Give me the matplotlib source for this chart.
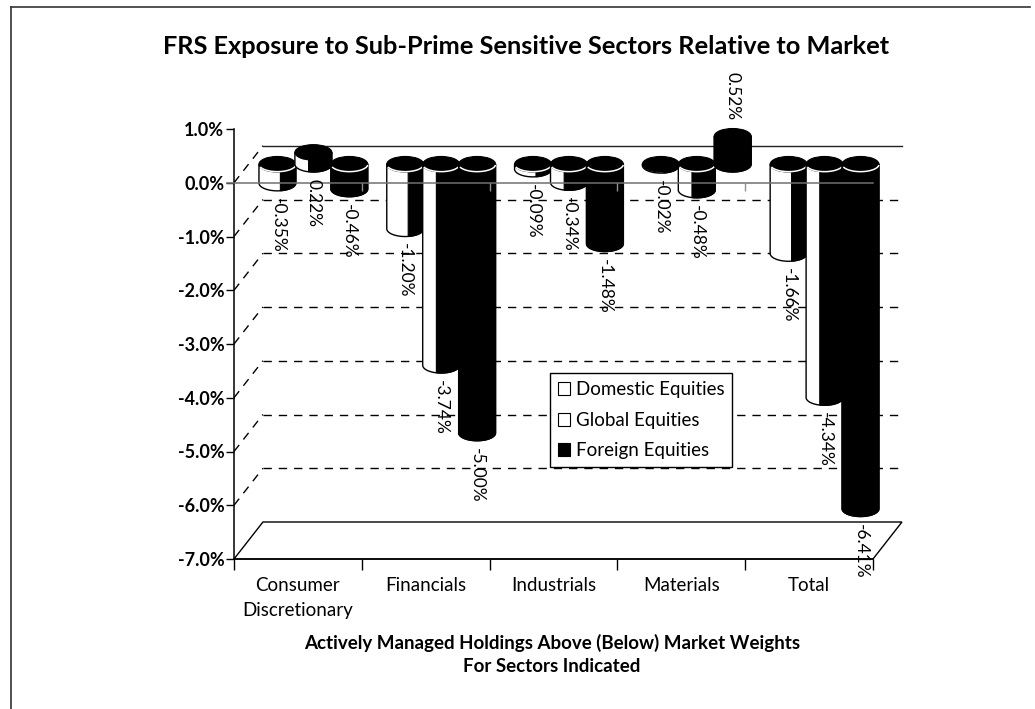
"""
FRS exposure to sub-prime sensitive sectors, old Excel style 3D cylinder chart.
"""

import matplotlib
matplotlib.use('Agg')
import matplotlib.pyplot as plt
import numpy as np
from matplotlib.lines import Line2D
from matplotlib.patches import Ellipse, Patch, Polygon

plt.rcParams['font.family'] = 'Lato'
plt.rcParams['font.size'] = 13

CATEGORIES = ['Consumer\nDiscretionary', 'Financials', 'Industrials', 'Materials', 'Total']
SERIES_NAMES = ['Domestic Equities', 'Global Equities', 'Foreign Equities']
DOMESTIC = [-0.35, -1.20, -0.09, -0.02, -1.66]
GLOBAL_EQ = [0.22, -3.74, -0.34, -0.48, -4.34]
FOREIGN = [-0.46, -5.00, -1.48, 0.52, -6.41]
Y_TICKS = [1, 0, -1, -2, -3, -4, -5, -6, -7]

W, H = 1035, 709
AX_L, AX_R, AX_T, AX_B = 234, 873, 129, 559

DEPTH_X = 29 / 128      # floor depth in category units
DEPTH_Y = 37 / 53.75    # floor depth in percent units
BAR_W = 37 / 128
BAR_STEP = 36 / 128
ELL_H = 0.29
# white share of the cylinder side, left to right
WHITE_PART = [0.58, 0.37, 0.0]


def draw_cylinder(ax, xc, val, white_part, z):
    base = DEPTH_Y / 2
    top = base + max(val, 0)
    bot = base + min(val, 0)
    xl, xr = xc - BAR_W / 2, xc + BAR_W / 2
    t = np.linspace(np.pi, 2 * np.pi, 40)
    ax_x = xc + BAR_W / 2 * np.cos(t)
    ax_y = bot + ELL_H / 2 * np.sin(t)

    pts = [(xl, top)] + list(zip(ax_x, ax_y)) + [(xr, top)]
    ax.add_patch(Polygon(pts, closed=True, facecolor='white', edgecolor='black',
                         linewidth=1.0, zorder=z, clip_on=False))
    # dark right side of the cylinder
    split = xl + BAR_W * white_part
    keep = ax_x >= split
    if white_part > 0:
        y_split = np.interp(split, ax_x, ax_y)
        dark = [(split, top), (split, y_split)] + list(zip(ax_x[keep], ax_y[keep])) + [(xr, top)]
    else:
        dark = pts
    ax.add_patch(Polygon(dark, closed=True, facecolor='black', edgecolor='black',
                         linewidth=0.8, zorder=z, clip_on=False))
    ax.add_patch(Ellipse((xc, top), BAR_W, ELL_H, facecolor='black', edgecolor='black',
                         linewidth=0.8, zorder=z, clip_on=False))
    # white rim under the top face
    if val < -0.05:
        t2 = np.linspace(1.12 * np.pi, 1.97 * np.pi, 30)
        ax.plot(xc + BAR_W / 2 * np.cos(t2), top + ELL_H / 2 * np.sin(t2) * 0.95,
                color='white', linewidth=1.1, zorder=z, clip_on=False,
                solid_capstyle='butt')


fig = plt.figure(figsize=(W / 100, H / 100), dpi=100)
ax = fig.add_axes([AX_L / W, 1 - AX_B / H, (AX_R - AX_L) / W, (AX_B - AX_T) / H])
ax.set_xlim(0, 5)
ax.set_ylim(-7, 1)
ax.patch.set_alpha(0)

for side in ['top', 'right']:
    ax.spines[side].set_visible(False)
ax.spines['left'].set_linewidth(1.1)
ax.spines['bottom'].set_linewidth(1.1)

ax.set_yticks(Y_TICKS)
ax.set_yticklabels([f'{v:.1f}%' for v in Y_TICKS], fontsize=13, fontweight='bold')
ax.tick_params(axis='y', length=6, width=1, pad=1)
ax.set_xticks(range(6))
ax.set_xticklabels([])
ax.tick_params(axis='x', which='major', length=8, width=1)
ax.set_xticks(np.arange(5) + 0.5, minor=True)
ax.set_xticklabels(CATEGORIES, minor=True, fontsize=13.5, linespacing=1.55)
ax.tick_params(axis='x', which='minor', length=0, pad=13)

# floor and back wall grid
floor = [(0, -7), (5, -7), (5 + DEPTH_X, -7 + DEPTH_Y), (DEPTH_X, -7 + DEPTH_Y)]
ax.add_patch(Polygon(floor, closed=True, facecolor='white', edgecolor='black',
                     linewidth=1.0, zorder=1, clip_on=False))
for k in range(0, -7, -1):
    ax.plot([0, DEPTH_X], [k, k + DEPTH_Y], color='black', linewidth=1.0,
            dashes=(6, 5), zorder=1, clip_on=False)
    if k == 0:
        ax.plot([DEPTH_X, 5 + DEPTH_X], [k + DEPTH_Y] * 2, color='#222222',
                linewidth=1.0, zorder=1, clip_on=False)
    else:
        ax.plot([DEPTH_X, 5 + DEPTH_X], [k + DEPTH_Y] * 2, color='black',
                linewidth=1.0, dashes=(6, 5), zorder=1, clip_on=False)

# cylinders, left to right so later ones overlap
z = 3
for c in range(len(CATEGORIES)):
    group = [DOMESTIC[c], GLOBAL_EQ[c], FOREIGN[c]]
    for s, val in enumerate(group):
        xc = c + 0.5 + DEPTH_X / 2 + 1 / 128 + (s - 1) * BAR_STEP
        draw_cylinder(ax, xc, val, WHITE_PART[s], z)
        z += 1
        if val > 0.3:
            y_anchor = DEPTH_Y / 2 + val + ELL_H / 2
            ax.annotate(f'{val:.2f}%', (xc, y_anchor), xytext=(0, 6),
                        textcoords='offset points', rotation=270, ha='center',
                        va='bottom', fontsize=12.5, zorder=60, annotation_clip=False)
        else:
            y_anchor = DEPTH_Y / 2 + min(val, 0) - ELL_H / 2
            ax.annotate(f'{val:.2f}%', (xc, y_anchor), xytext=(0, -5),
                        textcoords='offset points', rotation=270, ha='center',
                        va='top', fontsize=12.5, zorder=60, annotation_clip=False)

# zero line runs in front of the cylinders
ax.plot([-7 / 128, 5], [0, 0], color='#707070', linewidth=1.1, zorder=50, clip_on=False)
ax.vlines(range(1, 5), -0.16, 0, color='#909090', linewidth=1.0, zorder=50)

handles = [
    Patch(facecolor='white', edgecolor='black', linewidth=0.8, label=SERIES_NAMES[0]),
    Patch(facecolor='white', edgecolor='black', linewidth=0.8, label=SERIES_NAMES[1]),
    Patch(facecolor='black', edgecolor='black', linewidth=0.8, label=SERIES_NAMES[2]),
]
leg = fig.legend(handles=handles, loc='lower left',
                 bbox_to_anchor=(550 / W, 1 - 467 / H), fontsize=13.5,
                 handlelength=0.65, handleheight=0.7, handletextpad=0.3,
                 labelspacing=0.72, borderpad=0.42, borderaxespad=0, fancybox=False,
                 framealpha=1, edgecolor='black')
leg.get_frame().set_linewidth(1.0)
leg.set_zorder(80)

fig.text(526 / W, 1 - 47 / H,
         'FRS Exposure to Sub-Prime Sensitive Sectors Relative to Market',
         ha='center', va='center', fontsize=18.3, fontweight='bold')
fig.text(552 / W, 1 - 643 / H, 'Actively Managed Holdings Above (Below) Market Weights',
         ha='center', va='center', fontsize=13.5, fontweight='bold')
fig.text(552 / W, 1 - 667 / H, 'For Sectors Indicated',
         ha='center', va='center', fontsize=13.5, fontweight='bold')

# scanned page border
fig.add_artist(Line2D([11 / W, 11 / W], [0, 1 - 7 / H], color='#333333', linewidth=1.2))
fig.add_artist(Line2D([11 / W, 1030 / W], [1 - 7 / H, 1 - 7 / H], color='#333333', linewidth=1.2))

plt.savefig('out.png', dpi=100)
